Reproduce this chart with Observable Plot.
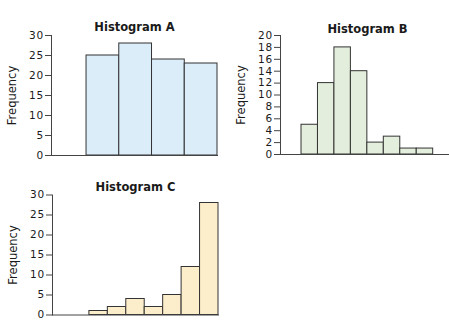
<!DOCTYPE html>
<html>
<head>
<meta charset="utf-8">
<script src="https://cdn.jsdelivr.net/npm/d3@7"></script>
<script src="https://cdn.jsdelivr.net/npm/@observablehq/plot@0.6"></script>
<style>
  html, body { margin: 0; padding: 0; background: #fff; }
  #wrap { position: relative; width: 449px; height: 324px; overflow: hidden; }
  #wrap svg { position: absolute; font-family: "DejaVu Sans", sans-serif; }
  #wrap g[aria-label="y-axis tick label"] { font-size: 10.5px; letter-spacing: 0.8px; }
  #wrap g[aria-label="y-axis label"] { font-size: 11.5px; }
</style>
</head>
<body>
<div id="wrap"></div>
<script>
// Histogram A
const titleA = "Histogram A";
const binsA = [0, 1, 2, 3];
const freqA = [25, 28, 24, 23];
const ticksA = [0, 5, 10, 15, 20, 25, 30];

// Histogram B
const titleB = "Histogram B";
const binsB = [0, 1, 2, 3, 4, 5, 6, 7];
const freqB = [5, 12, 18, 14, 2, 3, 1, 1];
const ticksB = [0, 2, 4, 6, 8, 10, 12, 14, 16, 18, 20];

// Histogram C
const titleC = "Histogram C";
const binsC = [0, 1, 2, 3, 4, 5, 6];
const freqC = [1, 2, 4, 2, 5, 12, 28];
const ticksC = [0, 5, 10, 15, 20, 25, 30];

const yLabel = "Frequency";

function hist({title, bins, freq, ticks, fill, left, top, width, height,
               mLeft, mRight, mTop, mBottom, xDomain, yMax, titleDy, titleDx}) {
  const data = bins.map((b, i) => ({bin: b, freq: freq[i]}));
  const svg = Plot.plot({
    width, height,
    marginLeft: mLeft, marginRight: mRight, marginTop: mTop, marginBottom: mBottom,
    style: {fontFamily: "DejaVu Sans, sans-serif", fontSize: "12px", color: "#1a1a1a", background: "transparent", overflow: "visible"},
    x: {domain: xDomain, axis: null},
    y: {domain: [0, yMax]},
    marks: [
      Plot.rectY(data, {x1: "bin", x2: d => d.bin + 1, y: "freq", fill, stroke: "#333", strokeWidth: 1}),
      Plot.frame({anchor: "left", stroke: "#444"}),
      Plot.frame({anchor: "bottom", stroke: "#444"}),
      Plot.axisY({ticks, tickSize: 6, tickPadding: 1.5, stroke: "#444",
                  label: yLabel, labelAnchor: "center", labelArrow: "none", labelOffset: 44}),
      Plot.text([title], {frameAnchor: "top", dy: titleDy, dx: titleDx, fontWeight: "bold", fontSize: 11.5, fill: "#1a1a1a"})
    ]
  });
  svg.style.left = left + "px";
  svg.style.top = top + "px";
  document.getElementById("wrap").appendChild(svg);
}

hist({title: titleA, bins: binsA, freq: freqA, ticks: ticksA, fill: "#dcedfa",
      left: 0, top: 0, width: 225, height: 165,
      mLeft: 51, mRight: 8, mTop: 35, mBottom: 10, xDomain: [-1.07, 4], yMax: 30, titleDy: -13, titleDx: 0});

hist({title: titleB, bins: binsB, freq: freqB, ticks: ticksB, fill: "#e3efdc",
      left: 230, top: 0, width: 219, height: 165,
      mLeft: 50, mRight: 1, mTop: 35, mBottom: 11, xDomain: [-1.276, 8.93], yMax: 20, titleDy: -11, titleDx: 3});

hist({title: titleC, bins: binsC, freq: freqC, ticks: ticksC, fill: "#fdeecb",
      left: 0, top: 165, width: 225, height: 159,
      mLeft: 52, mRight: 7, mTop: 29.5, mBottom: 9.5, xDomain: [-2.0, 7], yMax: 30, titleDy: -12, titleDx: 0});
</script>
</body>
</html>
